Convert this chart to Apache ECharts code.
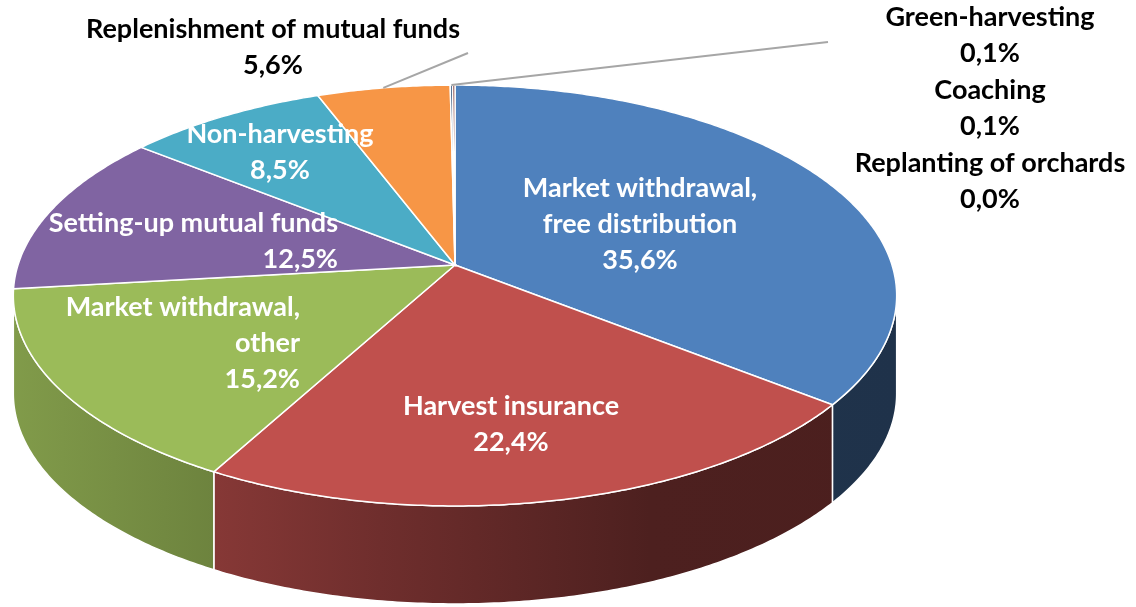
<!DOCTYPE html>
<html>
<head>
<meta charset="utf-8">
<script src="https://cdn.jsdelivr.net/npm/echarts@6/dist/echarts.min.js"></script>
<style>
  html, body { margin: 0; padding: 0; background: #fff; }
  #container { width: 1136px; height: 607px; }
</style>
</head>
<body>
<div id="container"></div>
<script>
// data
var categories = [
  'Market withdrawal,\nfree distribution',
  'Harvest insurance',
  'Market withdrawal,\nother',
  'Setting-up mutual funds',
  'Non-harvesting',
  'Replenishment of mutual funds',
  'Green-harvesting',
  'Coaching',
  'Replanting of orchards'
];
var shares = [35.6, 22.4, 15.2, 12.5, 8.5, 5.6, 0.1, 0.1, 0.0];
var colors = ['#4F81BD', '#C0504D', '#9BBB59', '#8064A2', '#4BACC6', '#F79646', '#2C4D75', '#772C2A', '#5F7530'];

// layout of the fake 3D pie (perspective ellipse)
var CX = 455, CY = 265, RX = 437, RY = 206, K = 0.145, DEPTH = 98;
var FONT = 'Lato';
// label anchors: [x, y, align, color]
var labelPos = [
  [640, 224, 'center', '#fff'],
  [511, 424, 'center', '#fff'],
  [300, 343, 'right', '#fff'],
  [338, 241, 'right', '#fff'],
  [280, 152, 'center', '#fff'],
  [273, 47, 'center', '#000'],
  [990, 35, 'center', '#000'],
  [990, 108, 'center', '#000'],
  [990, 181, 'center', '#000']
];
// leader line ends (only for outside labels)
var leaderEnd = { 5: [468, 53], 6: [828, 42] };

var total = shares.reduce(function (a, b) { return a + b; }, 0);

function proj(theta, r, dy) {
  var u = r * Math.sin(theta), v = -r * Math.cos(theta);
  var w = 1 - K * v;
  return [CX + RX * u / w, CY + RY * v / w + (dy || 0)];
}

function arc(a, b, dy) {
  var pts = [];
  var n = Math.max(2, Math.ceil((b - a) / 0.01));
  for (var i = 0; i <= n; i++) pts.push(proj(a + (b - a) * i / n, 1, dy));
  return pts;
}

function shade(hex, f) {
  var c = parseInt(hex.slice(1), 16);
  var r = Math.round(((c >> 16) & 255) * f), g = Math.round(((c >> 8) & 255) * f), b = Math.round((c & 255) * f);
  return 'rgb(' + r + ',' + g + ',' + b + ')';
}

var WALL_A = Math.PI - Math.acos(K);
var WALL_B = Math.PI + Math.acos(K);

function renderItem(params, api) {
  var i = params.dataIndex;
  var before = 0;
  for (var j = 0; j < i; j++) before += shares[j];
  var val = api.value(1);
  var s = before / total * 2 * Math.PI;
  var e = (before + val) / total * 2 * Math.PI;
  var children = [];
  var col = colors[i];

  if (e > s) {
    // side wall
    var a = Math.max(s, WALL_A), b = Math.min(e, WALL_B);
    if (b > a) {
      var top = arc(a, b, 0);
      var bot = arc(a, b, DEPTH).reverse();
      children.push({
        type: 'polygon',
        z2: 1,
        shape: { points: top.concat(bot) },
        style: {
          fill: {
            type: 'linear', x: 12, y: 0, x2: 900, y2: 0, global: true,
            colorStops: [
              { offset: 0, color: shade(col, 0.83) },
              { offset: 0.2286, color: shade(col, 0.70) },
              { offset: 0.4144, color: shade(col, 0.58) },
              { offset: 0.7185, color: shade(col, 0.40) },
              { offset: 1, color: shade(col, 0.39) }
            ]
          },
          stroke: '#fff',
          lineWidth: 1.5
        }
      });
    }
    // top face
    children.push({
      type: 'polygon',
      z2: 2,
      shape: { points: [[CX, CY]].concat(arc(s, e, 0)) },
      style: { fill: col, stroke: '#fff', lineWidth: 1.5 }
    });
  }

  // leader line
  if (leaderEnd[i]) {
    var m = proj((s + e) / 2, 1, 0);
    children.push({
      type: 'line',
      z2: 3,
      shape: { x1: m[0], y1: m[1], x2: leaderEnd[i][0], y2: leaderEnd[i][1] },
      style: { stroke: '#A6A6A6', lineWidth: 2 }
    });
  }

  // label
  var lp = labelPos[i];
  children.push({
    type: 'text',
    z2: 4,
    style: {
      text: categories[i] + '\n' + val.toFixed(1).replace('.', ',') + '%',
      x: lp[0], y: lp[1],
      align: lp[2], verticalAlign: 'middle',
      fill: lp[3],
      fontFamily: FONT, fontWeight: 'bold', fontSize: 27, lineHeight: 36
    }
  });

  return { type: 'group', children: children };
}

var dom = document.getElementById('container');
var myChart = echarts.init(dom, null, { renderer: 'canvas' });

var option = {
  animation: false,
  series: [{
    type: 'custom',
    coordinateSystem: 'none',
    silent: true,
    renderItem: renderItem,
    data: shares.map(function (v, i) { return [i, v]; })
  }]
};

myChart.setOption(option);
window.addEventListener('resize', myChart.resize);
</script>
</body>
</html>
